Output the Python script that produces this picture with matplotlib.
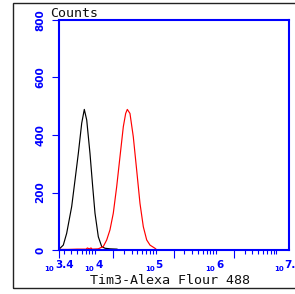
import numpy as np
import matplotlib
matplotlib.use("Agg")
import matplotlib.pyplot as plt
from matplotlib.ticker import FixedLocator, NullFormatter
from matplotlib.patches import Rectangle

# ---- data (log10 of fluorescence, counts) ----
black_log = [3.40, 3.417, 3.471, 3.527, 3.610, 3.665, 3.720, 3.776, 3.819, 3.859,
             3.913, 3.958, 3.996, 4.051, 4.107, 4.162, 4.250, 4.360]
black_cnt = [0, 6, 17, 58, 151, 243, 336, 441, 489, 452,
             336, 220, 128, 46, 12, 6, 4, 3]

red_log = [3.42, 3.55, 3.70, 3.85, 3.87, 3.90, 3.93, 3.95, 4.05, 4.133, 4.190,
           4.244, 4.299, 4.355, 4.410, 4.465, 4.504, 4.531, 4.575, 4.630,
           4.686, 4.741, 4.796, 4.852, 4.907, 4.989, 5.022]
red_cnt = [2, 2, 3, 3, 7, 4, 7, 3, 4, 12, 35,
           70, 128, 220, 325, 429, 475, 489, 475, 394,
           278, 162, 81, 35, 17, 6, 0]

y_ticks = [0, 200, 400, 600, 800]
x_label_exps = ["3.4", "4", "5", "6", "7.2"]
x_label_pos = [3.4, 4, 5, 6, 7.2]
x_min_exp, x_max_exp = 3.4, 7.2

BLUE = "#0000ff"

fig = plt.figure(figsize=(2.95, 2.94), dpi=100)
ax = fig.add_axes([59 / 295, 44 / 294, 229.5 / 295, 230 / 294])

ax.plot(10 ** np.array(black_log), black_cnt, color="black", lw=0.85)
ax.plot(10 ** np.array(red_log), red_cnt, color="#ff0000", lw=0.85)

ax.set_xscale("log")
ax.set_xlim(10 ** x_min_exp, 10 ** x_max_exp)
ax.set_ylim(0, 800)

for s in ax.spines.values():
    s.set_color(BLUE)
    s.set_linewidth(1.5)

# x ticks: long ticks at 2x10^n and left edge, short at other decade multiples
major = [10 ** x_min_exp] + [2 * 10 ** n for n in (4, 5, 6)]
minor = []
for n in range(3, 8):
    for k in (1, 3, 4, 5, 6, 7, 8, 9):
        v = k * 10 ** n
        if 10 ** x_min_exp < v < 10 ** x_max_exp:
            minor.append(v)
ax.xaxis.set_major_locator(FixedLocator(major))
ax.xaxis.set_minor_locator(FixedLocator(minor))
ax.xaxis.set_major_formatter(NullFormatter())
ax.xaxis.set_minor_formatter(NullFormatter())
ax.tick_params(axis="x", which="major", length=5.5, width=0.8, color=BLUE, direction="out")
ax.tick_params(axis="x", which="minor", length=3, width=0.8, color=BLUE, direction="out")

ax.set_yticks(y_ticks)
ax.set_yticklabels([str(v) for v in y_ticks])
ax.tick_params(axis="y", which="major", length=5, width=0.8, color=BLUE,
               direction="out", labelcolor=BLUE, labelsize=7.5, labelrotation=90, pad=5)
for t in ax.get_yticklabels():
    t.set_va("center")
    t.set_fontweight("bold")

# custom x tick labels: small "10" and larger exponent
for e, s in zip(x_label_pos, x_label_exps):
    shift = -4 if len(s) > 1 else 0
    ax.annotate(s, xy=(10 ** e, 0), xycoords=("data", "axes fraction"),
                xytext=(shift, -18), textcoords="offset pixels",
                ha="left", va="baseline", color=BLUE, fontsize=7.5,
                fontweight="bold", annotation_clip=False)
    ax.annotate("10", xy=(10 ** e, 0), xycoords=("data", "axes fraction"),
                xytext=(shift - 1, -21), textcoords="offset pixels",
                ha="right", va="baseline", color=BLUE, fontsize=5,
                fontweight="bold", annotation_clip=False)

fig.text(50 / 295, (294 - 17) / 294, "Counts", fontsize=9.5,
         family="DejaVu Sans Mono", color="#111111", ha="left", va="baseline")
fig.text(170 / 295, (294 - 280) / 294, "Tim3-Alexa Flour 488", fontsize=9.6,
         family="DejaVu Sans Mono", color="#111111", ha="center", va="center")

# outer frame
fig.patches.append(Rectangle((13 / 295, 6 / 294), 1.2, (285) / 294,
                             transform=fig.transFigure, fill=False,
                             edgecolor="#222222", lw=1.0))

fig.savefig("out.png", dpi=100)
